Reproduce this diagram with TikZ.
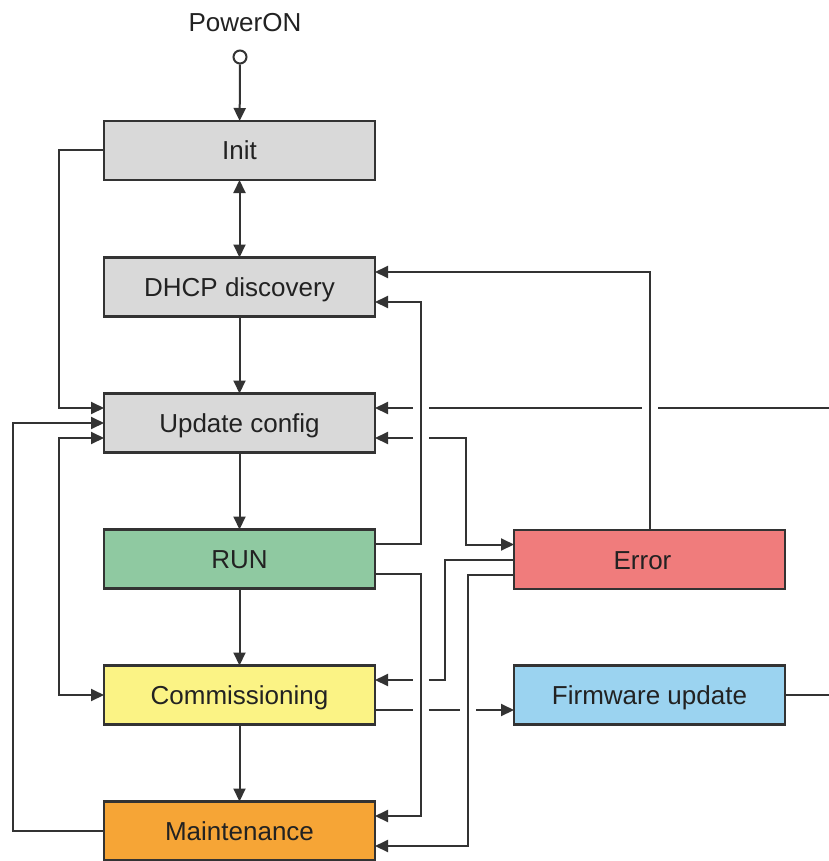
\documentclass[tikz,border=0pt]{standalone}
\usepackage{fontspec}
\setmainfont{Liberation Sans}
\usetikzlibrary{arrows.meta,backgrounds}
\definecolor{boxgray}{HTML}{D9D9D9}
\definecolor{rungreen}{HTML}{8FC9A1}
\definecolor{comyellow}{HTML}{FBF385}
\definecolor{mntorange}{HTML}{F6A536}
\definecolor{errred}{HTML}{F07C7C}
\definecolor{fwblue}{HTML}{9BD3F0}
\definecolor{edgegray}{HTML}{333333}
\definecolor{txt}{HTML}{222222}
\begin{document}
\begin{tikzpicture}[x=1pt,y=-1pt,
  state/.style={draw=edgegray, line width=2.2pt, minimum width=271pt, minimum height=59pt,
    inner sep=0pt, outer sep=0pt, text=txt, font=\fontsize{26}{30}\selectfont,
    text height=24pt, text depth=5pt},
  conn/.style={draw=edgegray, line width=2pt},
  arr/.style={conn, -{Triangle[length=13pt,width=12pt]}},
  arrb/.style={conn, {Triangle[length=13pt,width=12pt]}-{Triangle[length=13pt,width=12pt]}},
  halo/.style={preaction={draw=white, line width=16pt, -}}]
\useasboundingbox (0,0) rectangle (828,861);

\node[text=txt, font=\fontsize{26}{30}\selectfont] (pwrtxt) at (245,23) {PowerON};
\node[circle, draw=edgegray, line width=2pt, fill=white, minimum size=13pt, inner sep=0pt] (pwr) at (240,57) {};

\node[state, fill=boxgray] (init) at (239.5,150.5) {Init};
\node[state, fill=boxgray] (dhcp) at (239.5,287) {DHCP discovery};
\node[state, fill=boxgray] (upd) at (239.5,423) {Update config};
\node[state, fill=rungreen] (run) at (239.5,559) {RUN};
\node[state, fill=comyellow] (comm) at (239.5,695) {Commissioning};
\node[state, fill=mntorange] (maint) at (239.5,831) {Maintenance};
\node[state, fill=errred] (err) at (649.5,559.5) {Error\hspace*{14pt}};
\node[state, fill=fwblue] (fw) at (649.5,695) {Firmware update};

\begin{pgfonlayer}{background}
\fill[white] (0,0) rectangle (828,861);
% vertical chain
\draw[arr] (pwr) -- (init);
\draw[arrb] (init) -- (dhcp);
\draw[arr] (dhcp) -- (upd);
\draw[arr] (upd) -- (run);
\draw[arr] (run) -- (comm);
\draw[arr] (comm) -- (maint);
% left side
\draw[arr] (init.west) -- ++(-45,0) |- ([yshift=15pt]upd.west);
\draw[arr] (maint.west) -- ++(-91,0) |- (upd.west);
\draw[arrb] ([yshift=-15pt]upd.west) -- ++(-45,0) |- (comm.west);
% right side: lines that are crossed
\draw[arr] (fw.east) -- ++(80,0) |- ([yshift=15pt]upd.east);
\draw[arrb] ([yshift=-15pt]upd.east) -- ++(91,0) |- ([yshift=15pt]err.west);
\draw[arr] (err.west) -- ++(-69,0) |- ([yshift=15pt]comm.east);
\draw[arr] ([yshift=-15pt]comm.east) -- ([yshift=-15pt]fw.west);
% right side: crossing lines
\draw[arr, halo] (err.north) |- ([yshift=15pt]dhcp.east);
\draw[arr, halo] ([yshift=15pt]run.east) -- ++(46,0) |- ([yshift=-15pt]dhcp.east);
\draw[arr, halo] ([yshift=-15pt]err.west) -- ++(-46,0) |- ([yshift=-15pt]maint.east);
\draw[arr, halo] ([yshift=-15pt]run.east) -- ++(46,0) |- ([yshift=15pt]maint.east);
\end{pgfonlayer}
\end{tikzpicture}
\end{document}
